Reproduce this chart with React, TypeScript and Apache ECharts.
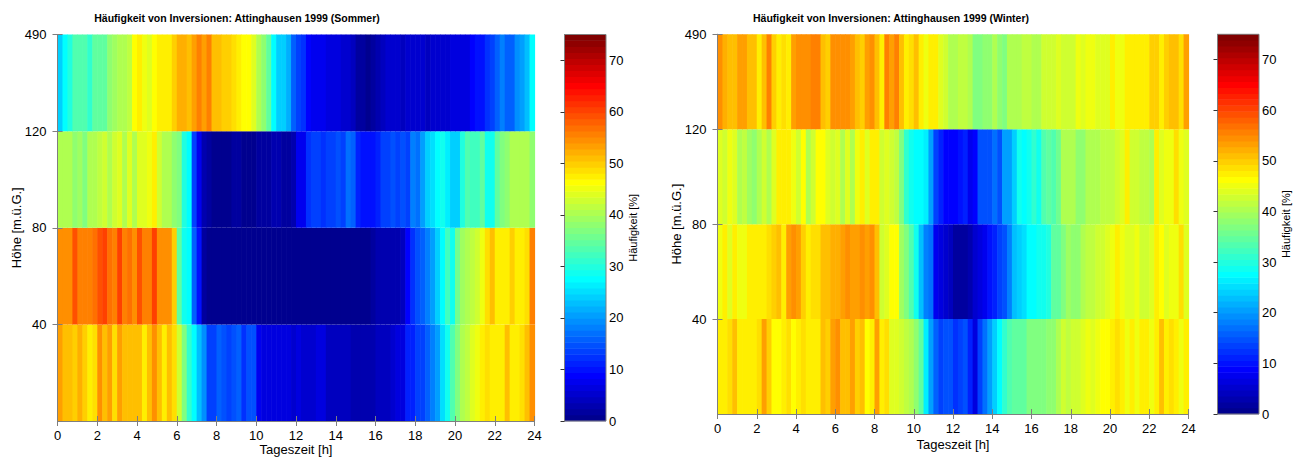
import React, { useEffect, useRef } from "react";
import * as echarts from "echarts";

// ---- data (Häufigkeit [%]) : 96 bins of 15 minutes, 0..24 h ----
const TIME_BINS = Array.from({ length: 96 }, (_, i) => i * 0.25);
const BIN_H = 0.25;
const HEIGHT_LABELS = ["", "40", "80", "120", "490"];
const COLOR_MIN = 0;
const COLOR_MAX = 75;
const COLORBAR_TICKS = [0, 10, 20, 30, 40, 50, 60, 70];

const SOMMER_0_40 = [
  53, 51, 51, 50, 52, 50, 47, 49, 54, 51, 53, 49, 53, 51, 51, 51, 51, 47, 51, 54, 51, 47, 51, 49,
  43, 37, 31, 28, 23, 19, 14, 14, 16, 15, 13, 15, 16, 12, 15, 15, 8, 7, 7, 7, 6, 7, 6, 5,
  6, 5, 5, 5, 6, 6, 4, 4, 4, 4, 4, 3, 3, 3, 3, 3, 4, 4, 4, 5, 6, 7, 11, 11,
  13, 13, 16, 18, 20, 25, 29, 33, 37, 40, 42, 44, 45, 47, 49, 47, 47, 47, 51, 47, 47, 49, 51, 54,
];
const SOMMER_40_80 = [
  54, 54, 55, 59, 56, 56, 56, 57, 59, 60, 57, 56, 60, 56, 57, 55, 59, 56, 56, 60, 55, 55, 54, 50,
  34, 29, 27, 16, 10, 2, 1, 1, 1, 1, 1, 1, 1, 1, 1, 1, 1, 1, 1, 1, 1, 1, 1, 1,
  1, 1, 1, 1, 1, 1, 1, 1, 1, 1, 1, 1, 1, 1, 1, 2, 3, 3, 3, 3, 3, 4, 9, 12,
  15, 16, 18, 20, 24, 28, 32, 29, 36, 39, 40, 42, 43, 45, 49, 51, 47, 47, 47, 50, 48, 48, 49, 56,
];
const SOMMER_80_120 = [
  40, 40, 40, 38, 39, 37, 40, 40, 42, 43, 41, 43, 44, 41, 44, 40, 44, 44, 45, 47, 43, 40, 40, 38,
  37, 30, 27, 14, 8, 3, 2, 1, 1, 1, 1, 2, 2, 1, 1, 1, 2, 2, 2, 3, 3, 2, 2, 3,
  8, 8, 12, 13, 13, 12, 13, 14, 15, 14, 17, 16, 11, 10, 10, 10, 11, 14, 14, 15, 13, 15, 14, 18,
  17, 20, 24, 25, 27, 29, 26, 24, 24, 30, 33, 32, 32, 34, 29, 29, 35, 37, 38, 40, 40, 41, 41, 38,
];
const SOMMER_120_490 = [
  24, 27, 30, 33, 33, 33, 31, 34, 34, 34, 38, 39, 40, 40, 42, 46, 47, 45, 44, 46, 47, 47, 48, 50,
  52, 52, 51, 53, 56, 53, 56, 51, 51, 50, 50, 49, 47, 46, 46, 44, 40, 38, 34, 28, 24, 24, 22, 16,
  13, 12, 9, 8, 8, 8, 7, 7, 6, 5, 5, 4, 2, 2, 1, 2, 3, 4, 5, 5, 5, 4, 5, 5,
  5, 5, 4, 5, 5, 5, 5, 6, 6, 7, 7, 9, 10, 10, 12, 14, 16, 18, 16, 16, 19, 20, 23, 27,
];

const WINTER_0_40 = [
  48, 47, 49, 51, 47, 47, 47, 47, 49, 53, 50, 46, 46, 47, 49, 46, 47, 49, 47, 48, 48, 51, 50, 53,
  54, 51, 51, 53, 50, 51, 46, 48, 53, 47, 49, 44, 44, 43, 42, 40, 38, 34, 26, 20, 16, 14, 15, 15,
  12, 14, 15, 11, 7, 14, 17, 21, 24, 27, 31, 33, 34, 34, 35, 37, 37, 37, 37, 38, 38, 41, 43, 42,
  43, 43, 44, 45, 44, 45, 46, 46, 48, 49, 47, 45, 47, 45, 48, 47, 45, 48, 51, 47, 49, 47, 45, 48,
];
const WINTER_40_80 = [
  45, 47, 44, 47, 45, 45, 47, 47, 47, 48, 49, 50, 51, 48, 53, 54, 53, 50, 47, 49, 49, 51, 51, 52,
  52, 53, 54, 53, 53, 54, 53, 54, 51, 43, 44, 46, 46, 39, 37, 33, 29, 23, 18, 17, 8, 6, 5, 4,
  2, 2, 2, 3, 5, 7, 8, 10, 11, 13, 15, 18, 23, 24, 25, 27, 27, 29, 29, 30, 34, 34, 37, 39,
  38, 38, 41, 42, 42, 43, 43, 44, 45, 47, 45, 44, 44, 45, 43, 43, 44, 48, 46, 44, 45, 45, 49, 44,
];
const WINTER_80_120 = [
  44, 43, 45, 44, 41, 42, 39, 38, 40, 43, 41, 44, 47, 47, 47, 45, 43, 46, 41, 43, 46, 46, 44, 43,
  44, 40, 44, 41, 45, 47, 44, 47, 47, 43, 44, 43, 42, 37, 31, 29, 28, 27, 26, 20, 13, 11, 9, 9,
  9, 10, 11, 8, 9, 15, 15, 15, 17, 15, 21, 21, 24, 29, 27, 29, 31, 29, 33, 34, 33, 36, 41, 40,
  40, 38, 38, 40, 40, 41, 42, 42, 42, 43, 44, 47, 43, 43, 42, 42, 41, 47, 44, 45, 45, 49, 45, 44,
];
const WINTER_120_490 = [
  55, 52, 51, 51, 53, 53, 51, 51, 48, 51, 56, 50, 47, 49, 47, 53, 54, 54, 54, 56, 56, 51, 50, 54,
  54, 54, 54, 53, 51, 50, 53, 54, 51, 48, 56, 53, 56, 51, 48, 49, 51, 48, 45, 47, 48, 44, 43, 41,
  41, 42, 42, 40, 37, 37, 38, 38, 40, 38, 37, 40, 41, 41, 42, 42, 40, 40, 43, 43, 43, 44, 43, 43,
  43, 45, 44, 45, 45, 44, 44, 44, 47, 45, 45, 47, 47, 47, 47, 47, 50, 50, 47, 50, 51, 51, 49, 53,
];

const SOMMER_ROWS = [SOMMER_0_40, SOMMER_40_80, SOMMER_80_120, SOMMER_120_490];
const WINTER_ROWS = [WINTER_0_40, WINTER_40_80, WINTER_80_120, WINTER_120_490];

// ---- MATLAB jet(64) colormap ----
function jet64(): string[] {
  const n = 16;
  const u: number[] = [];
  for (let j = 0; j < 47; j++) {
    if (j < 16) u.push((j + 1) / n);
    else if (j < 31) u.push(1);
    else u.push((47 - j) / n);
  }
  const out: string[] = [];
  for (let k = 1; k <= 64; k++) {
    const g = k >= 9 && k <= 55 ? u[k - 9] : 0;
    const r = k >= 25 ? u[k - 25] : 0;
    const b = k <= 39 ? u[k + 7] : 0;
    const h = (x: number) => Math.round(x * 255).toString(16).padStart(2, "0");
    out.push("#" + h(r) + h(g) + h(b));
  }
  return out;
}
const JET = jet64();
const STEP = (COLOR_MAX - COLOR_MIN) / JET.length;

const FONT = "'Liberation Sans', Arial, Helvetica, sans-serif";
const AXIS_COLOR = "#7f7f7f";

function heatData(rows: number[][]) {
  const d: number[][] = [];
  rows.forEach((arr, r) => arr.forEach((v, c) => d.push([TIME_BINS[c], r, v])));
  return d;
}

const colorbarData = JET.map((_, i) => [0, COLOR_MIN + i * STEP, COLOR_MIN + (i + 0.5) * STEP]);

function renderHeat(params: any, api: any) {
  const x = api.value(0);
  const y = api.value(1);
  const p0 = api.coord([x, y + 1]);
  const p1 = api.coord([x + BIN_H, y]);
  return {
    type: "rect",
    shape: { x: p0[0], y: p0[1], width: p1[0] - p0[0] + 0.6, height: p1[1] - p0[1] },
    style: { fill: api.visual("color") },
  };
}

function renderBar(params: any, api: any) {
  const lo = api.value(1);
  const p0 = api.coord([0, lo + STEP]);
  const p1 = api.coord([1, lo]);
  return {
    type: "rect",
    shape: { x: p0[0], y: p0[1] - 0.3, width: p1[0] - p0[0], height: p1[1] - p0[1] + 0.6 },
    style: { fill: api.visual("color") },
  };
}

const labelStyle = { color: "#000", fontSize: 13, fontFamily: FONT };

function mainX(gridIndex: number, bottom: boolean) {
  return {
    type: "value",
    gridIndex,
    position: bottom ? "bottom" : "top",
    min: 0,
    max: 24,
    interval: 2,
    z: 10,
    axisLine: { show: true, lineStyle: { color: AXIS_COLOR, width: 1 } },
    axisTick: { show: true, length: 5, lineStyle: { color: AXIS_COLOR } },
    axisLabel: bottom ? { show: true, margin: 8, ...labelStyle } : { show: false },
    splitLine: { show: false },
    name: bottom ? "Tageszeit [h]" : "",
    nameLocation: "middle",
    nameMoveOverlap: false,
    nameGap: gridIndex === 0 ? 21 : 23,
    nameTextStyle: { ...labelStyle, lineHeight: 14 },
  };
}

function mainY(gridIndex: number, left: boolean) {
  return {
    type: "value",
    gridIndex,
    position: left ? "left" : "right",
    min: 0,
    max: 4,
    interval: 1,
    z: 10,
    axisLine: { show: true, lineStyle: { color: AXIS_COLOR, width: 1 } },
    axisTick: { show: true, length: 5, customValues: [1, 2, 3, 4], lineStyle: { color: AXIS_COLOR } },
    axisLabel: left
      ? {
          show: true,
          margin: 11,
          customValues: [1, 2, 3, 4],
          formatter: (v: number) => HEIGHT_LABELS[Math.round(v)] ?? "",
          ...labelStyle,
        }
      : { show: false },
    splitLine: { show: false },
    name: left ? "Höhe [m.ü.G.]" : "",
    nameLocation: "middle",
    nameMoveOverlap: false,
    nameGap: 35,
    nameTextStyle: { ...labelStyle },
  };
}

function cbX(gridIndex: number) {
  return { type: "value", gridIndex, min: 0, max: 1, show: false };
}

function cbY(gridIndex: number) {
  return {
    type: "value",
    gridIndex,
    position: "right",
    min: COLOR_MIN,
    max: COLOR_MAX,
    interval: 10,
    z: 10,
    axisLine: { show: true, lineStyle: { color: AXIS_COLOR, width: 1 } },
    axisTick: { show: true, inside: true, length: 4, customValues: COLORBAR_TICKS, lineStyle: { color: "#333" } },
    axisLabel: {
      show: true,
      margin: 3,
      customValues: COLORBAR_TICKS,
      formatter: (v: number) => (v === COLOR_MAX ? "" : String(v)),
      ...labelStyle,
    },
    splitLine: { show: false },
    name: "Häufigkeit [%]",
    nameLocation: "middle",
    nameMoveOverlap: false,
    nameRotate: 90,
    nameGap: 21,
    nameTextStyle: { color: "#000", fontSize: 11, fontFamily: FONT },
  };
}

const gridBase = { containLabel: false, outerBoundsMode: "none" };

export default function App() {
  const ref = useRef<HTMLDivElement>(null);
  useEffect(() => {
    if (!ref.current) return;
    const chart = echarts.init(ref.current, undefined, { renderer: "svg" });
    const pieces = JET.map((c, i) => ({
      gte: COLOR_MIN + i * STEP,
      lt: i === JET.length - 1 ? COLOR_MAX + 1 : COLOR_MIN + (i + 1) * STEP,
      color: c,
    }));
    chart.setOption({
      animation: false,
      backgroundColor: "#fff",
      title: [
        {
          text: "Häufigkeit von Inversionen: Attinghausen 1999 (Sommer)",
          left: 237,
          top: 12,
          textAlign: "center",
          padding: 0,
          textStyle: { fontSize: 10.5, fontWeight: "bold", color: "#000", fontFamily: FONT },
        },
        {
          text: "Häufigkeit von Inversionen: Attinghausen 1999 (Winter)",
          left: 891,
          top: 12,
          textAlign: "center",
          padding: 0,
          textStyle: { fontSize: 10.5, fontWeight: "bold", color: "#000", fontFamily: FONT },
        },
      ],
      visualMap: {
        type: "piecewise",
        show: false,
        dimension: 2,
        seriesIndex: [0, 1, 2, 3],
        pieces,
      },
      grid: [
        { ...gridBase, left: 57.5, top: 34.5, width: 477, height: 386.5 },
        { ...gridBase, left: 564.5, top: 34.5, width: 41.5, height: 386.5, show: true, borderColor: AXIS_COLOR, borderWidth: 1, z: 10 },
        { ...gridBase, left: 717.5, top: 34.3, width: 471, height: 379.7 },
        { ...gridBase, left: 1217.5, top: 34.3, width: 41.5, height: 379.7, show: true, borderColor: AXIS_COLOR, borderWidth: 1, z: 10 },
      ],
      xAxis: [mainX(0, true), mainX(0, false), cbX(1), mainX(2, true), mainX(2, false), cbX(3)],
      yAxis: [mainY(0, true), mainY(0, false), cbY(1), mainY(2, true), mainY(2, false), cbY(3)],
      series: [
        {
          type: "custom",
          xAxisIndex: 0,
          yAxisIndex: 0,
          renderItem: renderHeat,
          encode: { x: 0, y: 1 },
          data: heatData(SOMMER_ROWS),
          z: 1,
        },
        {
          type: "custom",
          xAxisIndex: 3,
          yAxisIndex: 3,
          renderItem: renderHeat,
          encode: { x: 0, y: 1 },
          data: heatData(WINTER_ROWS),
          z: 1,
        },
        {
          type: "custom",
          xAxisIndex: 2,
          yAxisIndex: 2,
          renderItem: renderBar,
          encode: { x: 0, y: 1 },
          data: colorbarData,
          z: 1,
        },
        {
          type: "custom",
          xAxisIndex: 5,
          yAxisIndex: 5,
          renderItem: renderBar,
          encode: { x: 0, y: 1 },
          data: colorbarData,
          z: 1,
        },
      ],
    });
    return () => chart.dispose();
  }, []);
  return (
    <div
      ref={ref}
      style={{ position: "fixed", left: 0, top: 0, width: 1298, height: 459, background: "#fff" }}
    />
  );
}
